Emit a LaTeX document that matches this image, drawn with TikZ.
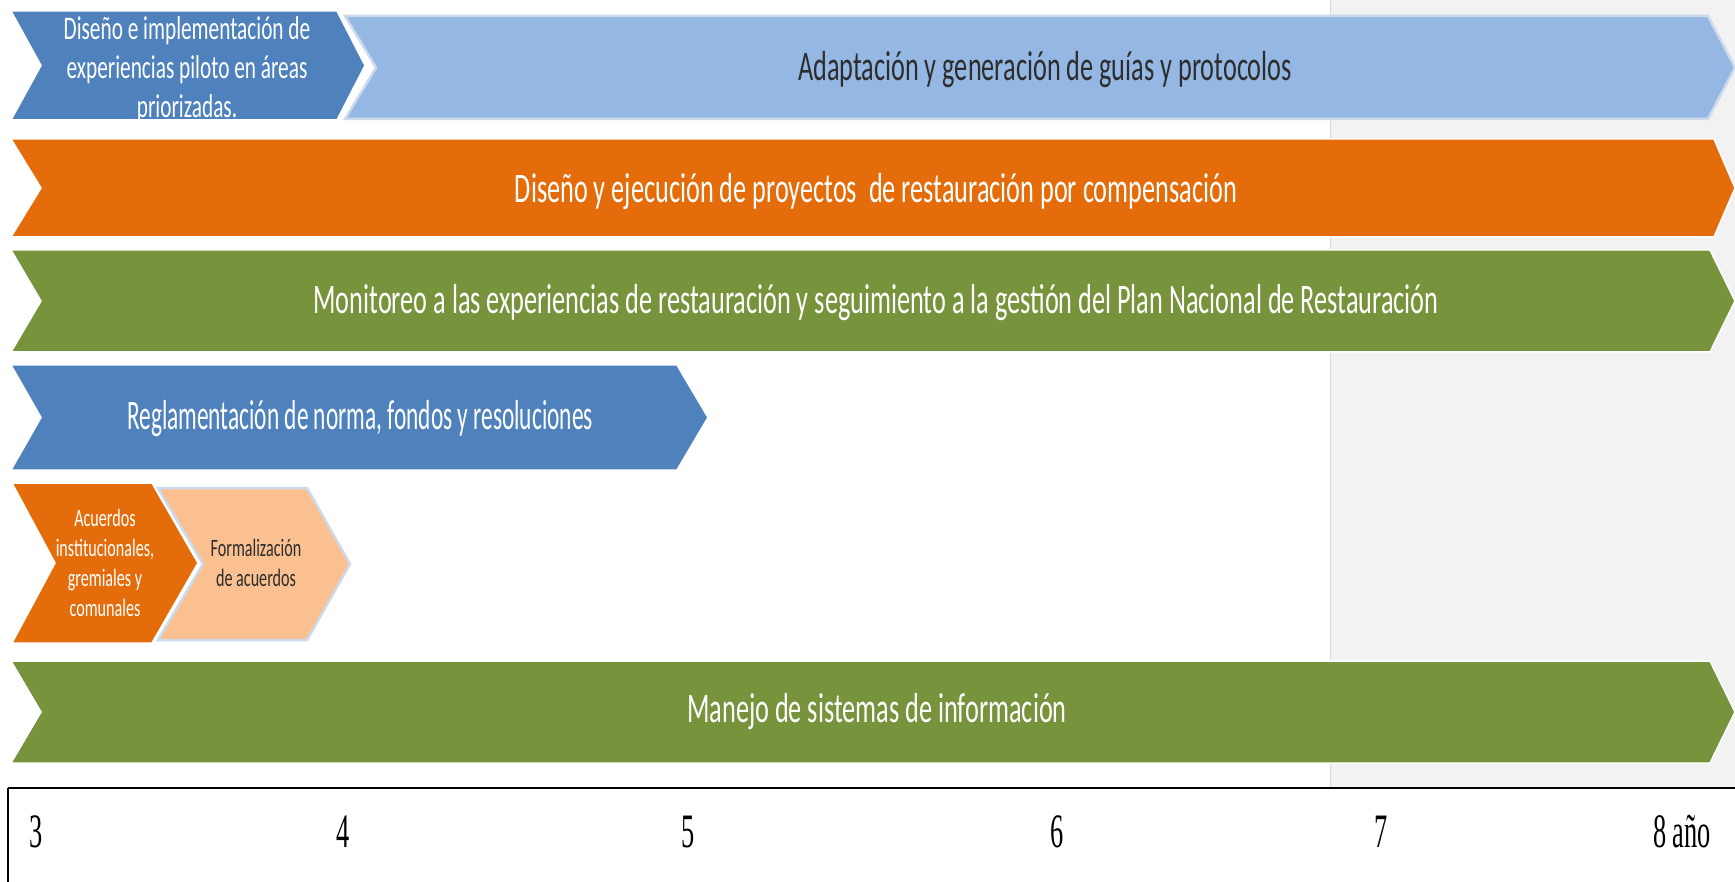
\documentclass[tikz,border=0pt]{standalone}
\usepackage{fontspec}
\newfontfamily\chfont[FakeStretch=0.625]{Carlito}
\newfontfamily\chfontb[FakeStretch=0.645]{Carlito}
\newfontfamily\axfont[FakeStretch=0.55]{Liberation Serif}
\definecolor{dblue}{RGB}{79,129,189}
\definecolor{lblue}{RGB}{149,183,228}
\definecolor{orng}{RGB}{228,108,10}
\definecolor{grn}{RGB}{119,147,60}
\definecolor{peach}{RGB}{250,192,144}
\definecolor{bgrey}{RGB}{242,242,242}
\definecolor{dtext}{RGB}{45,45,45}
\definecolor{paleedge}{RGB}{205,218,236}
% \mychev{L}{T}{B}{notch x}{R}{tip x}{style}
\newcommand\mychev[7]{%
  \path[#7] (#1,#2) -- (#5,#2) -- (#6,{(#2+#3)/2}) -- (#5,#3) -- (#1,#3) -- (#4,{(#2+#3)/2}) -- cycle;}
\tikzset{
  chevbox/.style={line width=1.5pt, line join=miter},
  bigtext/.style={font=\chfont\fontsize{42}{50}\selectfont, text=white, inner sep=0pt},
  midtext/.style={font=\chfontb\fontsize{33}{39}\selectfont, text=white, align=center, inner sep=0pt},
  smalltext/.style={font=\chfontb\fontsize{25}{30}\selectfont, text=white, align=center, inner sep=0pt},
  axlabel/.style={font=\axfont\fontsize{48}{52}\selectfont, text=black, inner sep=0pt}
}
\begin{document}
\begin{tikzpicture}[x=1pt,y=-1pt]
\useasboundingbox (0,0) rectangle (1735,882);
\fill[white] (0,0) rectangle (1735,882);
% grey background region
\fill[bgrey] (1330,0) rectangle (1735,788);
\draw[black!15, line width=1pt] (1330,0) -- (1330,788);
% row 1
\mychev{11}{11}{120}{41}{337}{365}{chevbox, fill=dblue, draw=white}
\mychev{345}{16}{119}{376}{1708}{1735}{chevbox, fill=lblue, draw=paleedge, line width=2.5pt}
\node[midtext] (t1a) at (187,70) {Diseño e implementación de\\experiencias piloto en áreas\\priorizadas.};
\node[bigtext, text=dtext] (t1b) at (1045,70) {Adaptación y generación de guías y protocolos};
% row 2
\mychev{11}{139}{237}{41}{1714}{1735}{chevbox, fill=orng, draw=white}
\node[bigtext] (t2) at (876,192) {Diseño y ejecución de proyectos\ \ de restauración por compensación};
% row 3
\mychev{11}{250}{352}{41}{1710}{1735}{chevbox, fill=grn, draw=white}
\node[bigtext] (t3) at (876,303) {Monitoreo a las experiencias de restauración y seguimiento a la gestión del Plan Nacional de Restauración};
% row 4
\mychev{11}{365}{470}{41}{677}{708}{chevbox, fill=dblue, draw=white}
\node[bigtext] (t4) at (360,419) {\scalebox{0.89}[1]{Reglamentación de norma, fondos y resoluciones}};
% row 5
\mychev{12}{483}{643}{55}{152}{198}{chevbox, fill=orng, draw=white}
\mychev{158}{488}{640}{203}{307}{350}{chevbox, fill=peach, draw=paleedge, line width=2.5pt}
\node[smalltext] (t5a) at (105,563) {Acuerdos\\institucionales,\\gremiales y\\comunales};
\node[smalltext, text=dtext] (t5b) at (256,563) {Formalización\\de acuerdos};
% row 6
\mychev{11}{661}{763}{41}{1710}{1735}{chevbox, fill=grn, draw=white}
\node[bigtext] (t6) at (877,712) {Manejo de sistemas de información};
% axis
\coordinate (axl) at (8,788);
\coordinate (axr) at (1735,788);
\coordinate (axb) at (8,882);
\draw[black, line width=2.5pt] (axl) -- (axr);
\draw[black, line width=1.5pt] (axl) -- (axb);
\node[axlabel] (a3) at (36,832) {3};
\node[axlabel] (a4) at (343,832) {4};
\node[axlabel] (a5) at (688,832) {5};
\node[axlabel] (a6) at (1057,832) {6};
\node[axlabel] (a7) at (1381,832) {7};
\node[axlabel] (a8) at (1682,832) {8 año};
\end{tikzpicture}
\end{document}
